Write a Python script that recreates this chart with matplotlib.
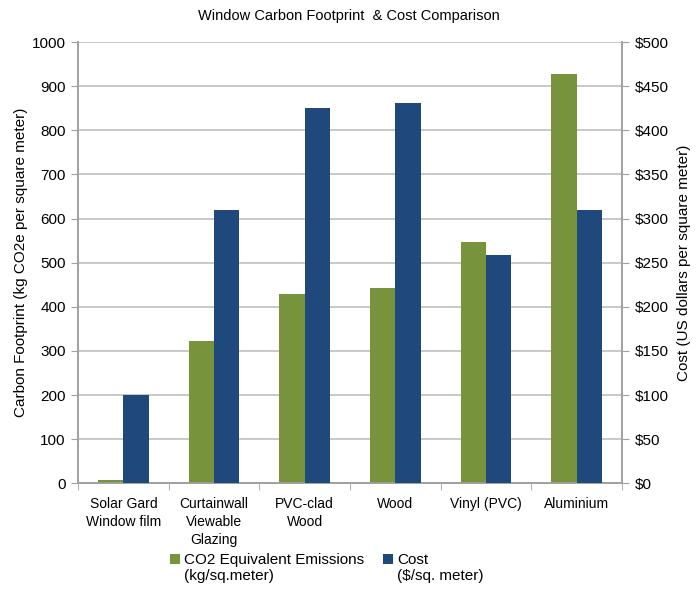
import numpy as np
import matplotlib.pyplot as plt
from matplotlib.ticker import FuncFormatter
from matplotlib.patches import Rectangle
from matplotlib.container import BarContainer
from matplotlib.legend_handler import HandlerPatch

CATEGORIES = ["Solar Gard\nWindow film", "Curtainwall\nViewable\nGlazing", "PVC-clad\nWood",
              "Wood", "Vinyl (PVC)", "Aluminium"]
CO2 = [8, 323, 430, 443, 546, 927]
COST = [100, 310, 425, 431, 259, 310]

GREEN = "#77933C"
BLUE = "#1F497D"
GRID = "#BFBFBF"

plt.rcParams['font.family'] = ['Liberation Sans', 'DejaVu Sans']
plt.rcParams['font.size'] = 10

fig = plt.figure(figsize=(6.98, 5.93), dpi=100)
ax = fig.add_axes([0.112, 0.185, 0.779, 0.744])
ax2 = ax.twinx()

x = np.arange(len(CATEGORIES))
w = 0.28
b1 = ax.bar(x - w / 2, CO2, w, color=GREEN, label="CO2 Equivalent Emissions\n(kg/sq.meter)", zorder=3)
b2 = ax2.bar(x + w / 2, COST, w, color=BLUE, label="Cost\n($/sq. meter)", zorder=3)

ax.set_xlim(-0.5, len(CATEGORIES) - 0.5)
ax.set_ylim(0, 1000)
ax.set_yticks(np.arange(0, 1001, 100))
ax2.set_ylim(0, 500)
ax2.set_yticks(np.arange(0, 501, 50))
ax2.yaxis.set_major_formatter(FuncFormatter(lambda v, p: f"${v:.0f}"))

ax.yaxis.grid(True, color=GRID, linewidth=1.2, zorder=0)
ax.set_axisbelow(True)

ax.set_xticks(x)
ax.set_xticklabels(CATEGORIES, va='top', linespacing=1.35)
ax.tick_params(axis='x', length=0, pad=10)
ax.set_xticks(np.arange(-0.5, len(CATEGORIES)), minor=True)
ax.tick_params(axis='x', which='minor', length=5, color='#A0A0A0')
ax.tick_params(axis='y', length=5, color='#A0A0A0', pad=4, labelsize=11)
ax2.tick_params(axis='y', length=5, color='#A0A0A0', pad=4, labelsize=11)

for a in (ax, ax2):
    a.spines['top'].set_visible(False)
    for s in ('left', 'right', 'bottom'):
        a.spines[s].set_color('#A0A0A0')
        a.spines[s].set_linewidth(1.2)

ax.set_ylabel("Carbon Footprint (kg CO2e per square meter)", fontsize=11, labelpad=3)
ax2.set_ylabel("Cost (US dollars per square meter)", fontsize=11, rotation=90, labelpad=6)
fig.text(0.5, 0.966, "Window Carbon Footprint  & Cost Comparison", ha='center', fontsize=10.5)


def top_square(legend, orig_handle, xdescent, ydescent, width, height, fontsize):
    return Rectangle((-xdescent, -ydescent + 0.6 * fontsize), width, height)


def copy_color(legend_handle, orig_handle):
    legend_handle.set_facecolor(orig_handle.patches[0].get_facecolor())
    legend_handle.set_edgecolor('none')


fig.legend(handles=[b1, b2], loc='center', bbox_to_anchor=(0.468, 0.042), ncol=2, frameon=False,
           handlelength=0.7, handleheight=0.7, handletextpad=0.25, columnspacing=1.2, fontsize=11,
           handler_map={BarContainer: HandlerPatch(patch_func=top_square, update_func=copy_color)})

fig.savefig("out.png", dpi=100)
